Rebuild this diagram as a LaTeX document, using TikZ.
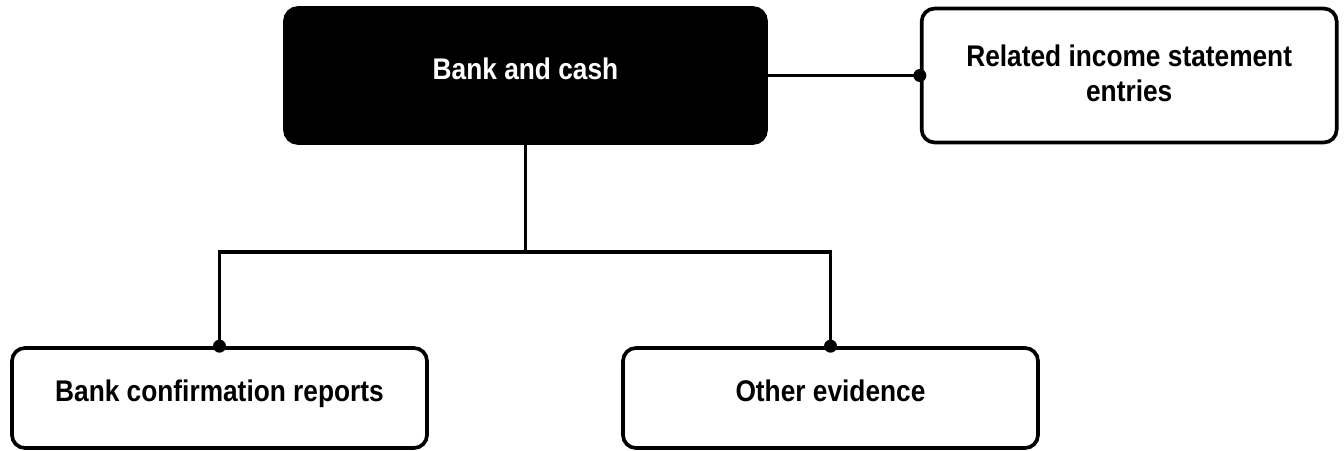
\documentclass[tikz,border=0pt]{standalone}
\usepackage{fontspec}
\setmainfont{Liberation Sans}[FakeStretch=0.88]
\usepackage{tikz}
\usetikzlibrary{positioning, calc}

\begin{document}
\begin{tikzpicture}[
    node distance=3.04cm,
    box/.style={rectangle, rounded corners=0.26cm, draw=black, line width=2.1pt, fill=white,
                minimum width=8.3cm, minimum height=2.0cm, align=center, text depth=0.28cm,
                font=\fontsize{17}{17.5}\selectfont\bfseries},
    topbox/.style={box, fill=black, text=white, minimum width=9.62cm, minimum height=2.7cm},
    link/.style={line width=2.1pt, color=black}
]

\useasboundingbox (0,0) rectangle (26.88,-9);

\node[topbox] (bank) at (10.51,-1.51) {Bank and cash};

\node[box, minimum height=2.68cm, text depth=0.1cm, right=3.04cm of bank] (income) {Related income statement\\[0.08cm] entries};

\node[box] (confirm) at (4.39,-7.96) {Bank confirmation reports};
\node[box] (other) at (16.61,-7.96) {Other evidence};

% links
\draw[link] (bank.east) -- (income.west);
\fill (income.west) circle (0.13);

\draw[link] (bank.south) -- ++(0,-2.14) coordinate (split);
\draw[link] (confirm.north) |- (split) -| (other.north);
\fill (confirm.north) circle (0.13);
\fill (other.north) circle (0.13);

\end{tikzpicture}
\end{document}
